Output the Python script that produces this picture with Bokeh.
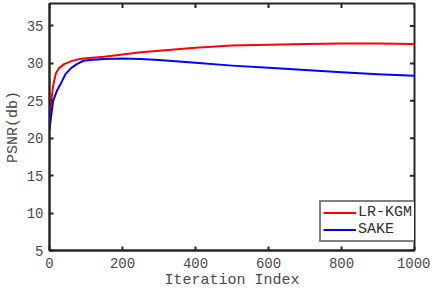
import math
from bokeh.plotting import figure
from bokeh.models import Legend, LegendItem, FixedTicker, Range1d
from bokeh.embed import file_html
from bokeh.resources import INLINE

# Data
iters_lr = [0, 5, 10, 17, 25, 40, 60, 84, 100, 150, 200, 250, 300, 400, 500, 600, 700, 800, 900, 1000]
lr_kgm = [22.0, 25.0, 27.0, 28.6, 29.3, 29.9, 30.3, 30.6, 30.7, 30.9, 31.2, 31.5, 31.7, 32.1, 32.4, 32.5, 32.6, 32.65, 32.65, 32.6]
iters_sake = [0, 5, 10, 20, 31, 44, 60, 75, 93, 120, 150, 200, 250, 300, 400, 500, 600, 700, 800, 900, 1000]
sake = [21.15, 23.2, 25.0, 26.3, 27.3, 28.6, 29.4, 29.9, 30.35, 30.5, 30.6, 30.65, 30.6, 30.45, 30.1, 29.7, 29.4, 29.1, 28.8, 28.55, 28.35]
x_ticks = [0, 200, 400, 600, 800, 1000]
y_ticks = [5, 10, 15, 20, 25, 30, 35]
x_min, x_max = 0, 1000
y_min, y_max = 5, 38
x_title = "Iteration Index"
y_title = "PSNR(db)"

FONT = "Liberation Mono"
AX = "#262626"
TXT = "#4a4a4a"

p = figure(width=430, height=292, output_backend="svg", toolbar_location=None,
           x_range=Range1d(x_min, x_max), y_range=Range1d(y_min, y_max),
           min_border_left=49, min_border_right=16, min_border_top=3, min_border_bottom=42,
           x_axis_label=x_title, y_axis_label=y_title)
p.grid.visible = False
p.outline_line_color = AX
p.outline_line_width = 2
p.background_fill_color = "white"
p.border_fill_color = "white"

r1 = p.line(iters_lr, lr_kgm, line_color="#ff0000", line_width=2, line_join="round")
r2 = p.line(iters_sake, sake, line_color="#0000ff", line_width=2, line_join="round")

# ticks on the top and right edges (inside), at the tick positions
p.scatter(x=x_ticks, y=[y_max] * len(x_ticks), marker="dash", angle=math.pi / 2,
          size=9, line_color=AX, line_width=2)
p.scatter(x=[x_max] * len(y_ticks), y=y_ticks, marker="dash",
          size=9, line_color=AX, line_width=2)

def style(ax, ticks):
    ax.ticker = FixedTicker(ticks=ticks)
    ax.major_tick_in = 4
    ax.major_tick_out = 0
    ax.minor_tick_line_color = None
    ax.axis_line_color = AX
    ax.axis_line_width = 2
    ax.major_tick_line_color = AX
    ax.major_tick_line_width = 2
    ax.major_label_text_font = FONT
    ax.major_label_text_font_size = "14px"
    ax.major_label_text_color = TXT
    ax.axis_label_text_font = FONT
    ax.axis_label_text_font_size = "15px"
    ax.axis_label_text_font_style = "normal"
    ax.axis_label_text_color = TXT

style(p.xaxis[0], x_ticks)
style(p.yaxis[0], y_ticks)
p.xaxis[0].major_label_standoff = 7
p.xaxis[0].axis_label_standoff = 1
p.yaxis[0].major_label_standoff = 6
p.yaxis[0].axis_label_standoff = 2

legend = Legend(items=[LegendItem(label="LR-KGM", renderers=[r1]),
                       LegendItem(label="SAKE", renderers=[r2])],
                location=(270, 8))
legend.margin = 0
legend.padding = 2
legend.spacing = 0
legend.border_line_color = "#000000"
legend.border_line_width = 2
legend.label_text_font = FONT
legend.label_text_font_size = "15px"
legend.label_text_color = "#303030"
legend.glyph_width = 33
legend.glyph_height = 15
legend.label_height = 15
legend.label_standoff = 2
legend.background_fill_alpha = 1
p.add_layout(legend, "center")

open("out.html", "w").write(file_html(p, INLINE))
